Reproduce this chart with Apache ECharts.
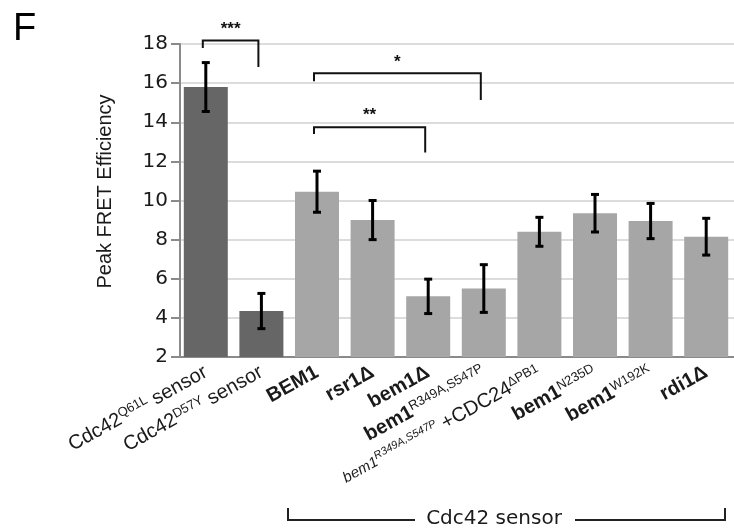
<!DOCTYPE html>
<html>
<head>
<meta charset="utf-8">
<script src="https://cdn.jsdelivr.net/npm/echarts@6/dist/echarts.min.js"></script>
<style>html,body{margin:0;padding:0;background:#fff}#c{width:734px;height:529px}</style>
</head>
<body>
<div id="c"></div>
<script>
// ---- data ----
var categories = ['Cdc42 Q61L sensor', 'Cdc42 D57Y sensor', 'BEM1', 'rsr1Δ', 'bem1Δ',
  'bem1 R349A,S547P', 'bem1 R349A,S547P +CDC24 ΔPB1', 'bem1 N235D', 'bem1 W192K', 'rdi1Δ'];
var means  = [15.8, 4.35, 10.45, 9.0, 5.1, 5.5, 8.4, 9.35, 8.95, 8.15];
var errors = [1.25, 0.9, 1.05, 1.0, 0.88, 1.22, 0.74, 0.96, 0.9, 0.94];
var groups = ['control', 'control', 'sensor', 'sensor', 'sensor', 'sensor', 'sensor', 'sensor', 'sensor', 'sensor'];
var yTicks = [2, 4, 6, 8, 10, 12, 14, 16, 18];
// significance brackets: [leftIdx, rightIdx, topY, leftEndY, rightEndY, stars]
var bracketLeft  = [0, 2, 2];
var bracketRight = [1, 5, 4];
var bracketTop   = [18.18, 16.5, 13.75];
var bracketLEnd  = [17.8, 16.1, 13.4];
var bracketREnd  = [16.83, 15.14, 12.45];
var bracketStars = ['***', '*', '**'];

// ---- label markup ----
var labelRich = [
  'Cdc42{sup|Q61L} sensor',
  'Cdc42{sup|D57Y} sensor',
  '{b|BEM1}',
  '{b|rsr1Δ}',
  '{b|bem1Δ}',
  '{b|bem1}{supb|R349A,S547P}',
  '{s|bem1}{ss|R349A,S547P} +CDC24{sup|ΔPB1}',
  '{b|bem1}{supb|N235D}',
  '{b|bem1}{supb|W192K}',
  '{b|rdi1Δ}'
];

var FONT = "'Liberation Sans', Arial, Helvetica, sans-serif";
var WIDE = "'DejaVu Sans', 'Liberation Sans', Arial, sans-serif";
var chart = echarts.init(document.getElementById('c'));

var errData = means.map(function (m, i) { return [i, m, errors[i]]; });
var brData = bracketLeft.map(function (l, i) {
  return [l, bracketRight[i], bracketTop[i], bracketLEnd[i], bracketREnd[i], i];
});

var option = {
  animation: false,
  backgroundColor: '#fff',
  grid: { left: 178, right: -5, top: 44, bottom: 172, containLabel: false },
  xAxis: {
    type: 'category',
    data: categories,
    axisLine: { lineStyle: { color: '#8a8a8a', width: 2 } },
    axisTick: { show: false },
    axisLabel: {
      interval: 0,
      rotate: 29,
      margin: 14,
      color: '#1a1a1a',
      fontFamily: FONT,
      fontSize: 20,
      formatter: function (v, i) { return labelRich[i]; },
      rich: {
        sup: { fontSize: 13, fontFamily: FONT, color: '#1a1a1a', verticalAlign: 'top', padding: [0, 0, 8, 0] },
        b: { fontSize: 20, fontWeight: 'bold', fontFamily: FONT, color: '#1a1a1a' },
        supb: { fontSize: 13, fontFamily: FONT, color: '#1a1a1a', verticalAlign: 'top', padding: [0, 0, 8, 0] },
        s: { fontSize: 15, fontStyle: 'italic', fontFamily: FONT, color: '#1a1a1a' },
        ss: { fontSize: 11, fontStyle: 'italic', fontFamily: FONT, color: '#1a1a1a', verticalAlign: 'top', padding: [0, 0, 6, 0] }
      }
    }
  },
  yAxis: {
    type: 'value',
    min: 2, max: 18, interval: 2,
    offset: -2,
    name: 'Peak FRET Efficiency',
    nameLocation: 'middle',
    nameGap: 65,
    nameTextStyle: { fontSize: 20, fontFamily: FONT, color: '#1a1a1a', padding: [0, 0, 0, 18] },
    axisLine: { show: true, lineStyle: { color: '#8a8a8a', width: 2 } },
    axisTick: { show: true, length: 9, lineStyle: { color: '#8a8a8a', width: 2 } },
    axisLabel: {
      margin: 12, fontSize: 20, fontFamily: WIDE, color: '#1a1a1a',
      formatter: function (v) { return yTicks.indexOf(v) >= 0 ? String(v) : ''; }
    },
    splitLine: { show: true, lineStyle: { color: '#dcdcdc', width: 2 } }
  },
  series: [
    {
      type: 'bar',
      data: means,
      barWidth: 44,
      itemStyle: {
        color: function (p) { return groups[p.dataIndex] === 'control' ? '#666666' : '#a6a6a6'; }
      },
      z: 2
    },
    {
      type: 'custom',
      data: errData,
      z: 5,
      renderItem: function (params, api) {
        var i = api.value(0), m = api.value(1), e = api.value(2);
        var top = api.coord([i, m + e]);
        var bot = api.coord([i, m - e]);
        var x = top[0], hw = 4;
        var st = { stroke: '#000', lineWidth: 3 };
        return {
          type: 'group',
          children: [
            { type: 'line', shape: { x1: x, y1: top[1], x2: x, y2: bot[1] }, style: st },
            { type: 'line', shape: { x1: x - hw, y1: top[1], x2: x + hw, y2: top[1] }, style: st },
            { type: 'line', shape: { x1: x - hw, y1: bot[1], x2: x + hw, y2: bot[1] }, style: st }
          ]
        };
      }
    },
    {
      type: 'custom',
      data: brData,
      clip: false,
      z: 6,
      renderItem: function (params, api) {
        var l = api.value(0), r = api.value(1);
        var pTop = api.coord([l, api.value(2)]);
        var pRT = api.coord([r, api.value(2)]);
        var pL = api.coord([l, api.value(3)]);
        var pR = api.coord([r, api.value(4)]);
        var idx = api.value(5);
        return {
          type: 'group',
          children: [
            { type: 'polyline', shape: { points: [[pL[0] - 3, pL[1]], [pTop[0] - 3, pTop[1]], [pRT[0] - 3, pRT[1]], [pR[0] - 3, pR[1]]] },
              style: { stroke: '#111', lineWidth: 2, fill: null } },
            { type: 'text', style: { text: bracketStars[idx], x: (pTop[0] + pRT[0]) / 2 - 3, y: pTop[1] - 3,
              textAlign: 'center', textVerticalAlign: 'bottom', fontSize: 17, fontWeight: 'bold', fontFamily: FONT, fill: '#111' } }
          ]
        };
      }
    }
  ],
  graphic: [
    { type: 'text', left: 13, top: 11, style: { text: 'F', fontSize: 38, fontFamily: FONT, fill: '#000' } },
    { type: 'polyline', shape: { points: [[288, 508], [288, 520], [415, 520]] }, style: { stroke: '#222', lineWidth: 2, fill: null } },
    { type: 'polyline', shape: { points: [[575, 520], [725, 520], [725, 508]] }, style: { stroke: '#222', lineWidth: 2, fill: null } },
    { type: 'text', x: 494, y: 519, style: { text: 'Cdc42 sensor', fontSize: 20, fontFamily: WIDE, fill: '#1a1a1a', textAlign: 'center', textVerticalAlign: 'middle' } }
  ]
};
chart.setOption(option);
</script>
</body>
</html>
